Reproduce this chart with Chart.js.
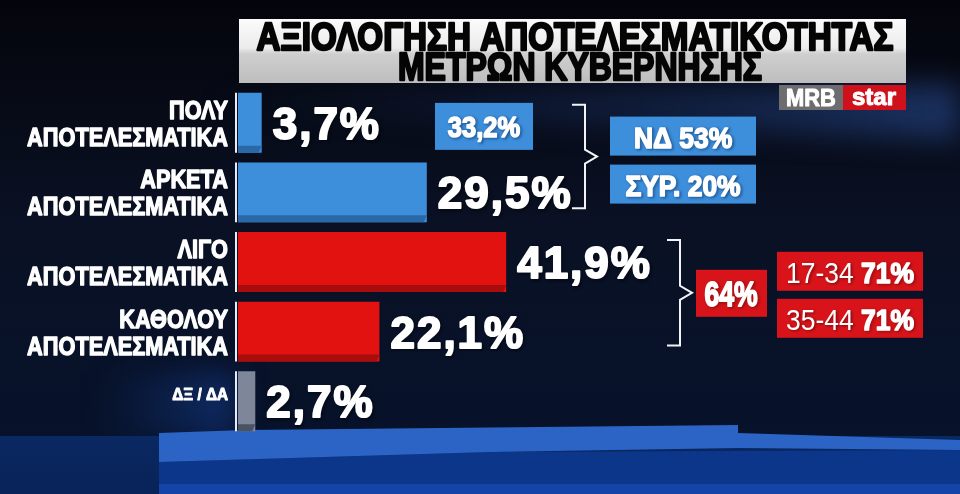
<!DOCTYPE html>
<html>
<head>
<meta charset="utf-8">
<script src="https://cdn.jsdelivr.net/npm/chart.js@4.4.1/dist/chart.umd.min.js"></script>
<style>
  html, body { margin: 0; padding: 0; background: #070b18; overflow: hidden; }
  #poll { display: block; }
</style>
</head>
<body>
<canvas id="poll" width="960" height="494"></canvas>
<script>
// poll data
const categories = [
    ['ΠΟΛΥ', 'ΑΠΟΤΕΛΕΣΜΑΤΙΚΑ'],
    ['ΑΡΚΕΤΑ', 'ΑΠΟΤΕΛΕΣΜΑΤΙΚΑ'],
    ['ΛΙΓΟ', 'ΑΠΟΤΕΛΕΣΜΑΤΙΚΑ'],
    ['ΚΑΘΟΛΟΥ', 'ΑΠΟΤΕΛΕΣΜΑΤΙΚΑ'],
    ['ΔΞ / ΔΑ']
];
const values = [3.7, 29.5, 41.9, 22.1, 2.7];
const titleLines = ['ΑΞΙΟΛΟΓΗΣΗ ΑΠΟΤΕΛΕΣΜΑΤΙΚΟΤΗΤΑΣ', 'ΜΕΤΡΩΝ ΚΥΒΕΡΝΗΣΗΣ'];
const positiveTotal = '33,2%';
const positiveByParty = ['ΝΔ 53%', 'ΣΥΡ. 20%'];
const negativeTotal = '64%';
const negativeAgeGroups = ['17-34', '35-44'];
const negativeAgeValues = ['71%', '71%'];

const FONT = "'Liberation Sans', Arial, sans-serif";
const BLUE = '#3d8fdc';
const RED = '#e11210';

// draw text squeezed horizontally (the original uses a condensed face)
function drawText(c, s, x, y, o) {
    c.save();
    c.font = o.font;
    c.letterSpacing = o.spacing || '0px';
    c.textBaseline = o.baseline || 'alphabetic';
    c.textAlign = 'left';
    const w = c.measureText(s).width;
    const sx = o.width ? o.width / w : (o.sx || 1);
    const dw = w * sx;
    let left = x;
    if (o.align === 'right') left = x - dw;
    else if (o.align === 'center') left = x - dw / 2;
    c.translate(left, y);
    c.scale(sx, 1);
    c.fillStyle = o.color || '#fff';
    c.strokeStyle = o.color || '#fff';
    if (o.shadow) {
        c.shadowColor = o.shadow;
        c.shadowBlur = 3;
        c.shadowOffsetX = 1.5;
        c.shadowOffsetY = 1.5;
    }
    if (o.stroke) {
        c.lineWidth = o.stroke;
        c.lineJoin = 'round';
        c.strokeText(s, 0, 0);
        c.shadowColor = 'transparent';
    }
    c.fillText(s, 0, 0);
    c.restore();
    return dw;
}

function bracket(c, x, top, bottom, tipX) {
    const mid = (top + bottom) / 2;
    c.save();
    c.strokeStyle = '#f2f4f8';
    c.lineWidth = 2;
    c.beginPath();
    c.moveTo(x - 13, top);
    c.lineTo(x, top);
    c.lineTo(x, mid - 7);
    c.lineTo(tipX, mid);
    c.lineTo(x, mid + 7);
    c.lineTo(x, bottom);
    c.lineTo(x - 13, bottom);
    c.stroke();
    c.restore();
}

function box(c, x, y, w, h, color) {
    c.fillStyle = color;
    c.fillRect(x, y, w, h);
}

const backdrop = {
    id: 'backdrop',
    beforeDraw(chart) {
        const c = chart.ctx;
        const W = chart.width, H = chart.height;
        c.save();
        let g = c.createLinearGradient(0, 0, 0, H);
        g.addColorStop(0, '#04050b');
        g.addColorStop(0.45, '#0a1124');
        g.addColorStop(0.85, '#07122a');
        g.addColorStop(1, '#061430');
        c.fillStyle = g;
        c.fillRect(0, 0, W, H);

        // soft streak behind the title
        c.filter = 'blur(14px)';
        c.beginPath();
        c.moveTo(200, 92); c.lineTo(960, 84); c.lineTo(960, 140); c.lineTo(200, 108);
        c.closePath();
        let s = c.createLinearGradient(200, 0, W, 0);
        s.addColorStop(0, 'rgba(25,50,105,0)');
        s.addColorStop(0.5, 'rgba(30,60,120,0.35)');
        s.addColorStop(1, 'rgba(40,75,145,0.6)');
        c.fillStyle = s;
        c.fill();

        let lg = c.createLinearGradient(100, 0, 236, 0);
        lg.addColorStop(0, 'rgba(16,48,112,0)');
        lg.addColorStop(1, 'rgba(16,48,112,0.85)');
        c.fillStyle = lg;
        c.fillRect(100, 372, 136, 64);
        c.filter = 'none';

        // floor
        let fg = c.createLinearGradient(0, 436, 0, H);
        fg.addColorStop(0, '#0a2862');
        fg.addColorStop(1, '#082358');
        c.fillStyle = fg;
        c.fillRect(0, 436, W, H - 436);

        c.beginPath();
        c.moveTo(159, 462); c.lineTo(490, 452); c.lineTo(960, 450);
        c.lineTo(960, H); c.lineTo(159, H);
        c.closePath();
        c.fillStyle = '#0c368a';
        c.fill();
        c.fillStyle = '#1444a8';
        c.fillRect(159, 484, W - 159, H - 484);

        c.beginPath();
        c.moveTo(159, 433); c.lineTo(245, 430); c.lineTo(738, 425); c.lineTo(738, 433);
        c.lineTo(960, 440); c.lineTo(960, 450); c.lineTo(738, 448); c.lineTo(490, 452);
        c.lineTo(159, 462);
        c.closePath();
        c.fillStyle = '#2c64c6';
        c.fill();
        c.restore();
    }
};

const decor = {
    id: 'decor',
    afterDatasetsDraw(chart) {
        const c = chart.ctx;
        const meta = chart.getDatasetMeta(0);
        const shades = ['#2a68a8', '#2a68a8', '#a80d0c', '#a80d0c', '#4b5262'];
        const tops = [], bots = [];
        c.save();
        meta.data.forEach((el, i) => {
            const p = el.getProps(['x', 'y', 'base', 'height'], true);
            const top = p.y - p.height / 2, bot = p.y + p.height / 2;
            tops.push(top); bots.push(bot);
            // bevel at the foot of each bar
            c.beginPath();
            c.moveTo(p.base, bot - 7); c.lineTo(p.x, bot - 7);
            c.lineTo(p.x - 3, bot); c.lineTo(p.base, bot);
            c.closePath();
            c.fillStyle = shades[i];
            c.fill();
            // white divider
            c.strokeStyle = '#e8eef8';
            c.lineWidth = 2;
            c.beginPath();
            c.moveTo(p.base - 2, top); c.lineTo(p.base - 2, bot);
            c.stroke();

            // category label
            const lines = categories[i];
            if (lines.length === 2) {
                drawText(c, lines[0], p.base - 10, p.y - 4, { font: `bold 25px ${FONT}`, sx: 0.87, align: 'right', stroke: 1.3 });
                drawText(c, lines[1], p.base - 10, p.y + 23, { font: `bold 25px ${FONT}`, sx: 0.87, align: 'right', stroke: 1.3 });
            } else {
                drawText(c, lines[0], p.base - 10, p.y - 1, { font: `bold 17px ${FONT}`, sx: 0.9, align: 'right', stroke: 1 });
            }

            // value label
            const label = values[i].toFixed(1).replace('.', ',') + '%';
            drawText(c, label, p.x + 11, p.y + 16, {
                font: `bold 44px ${FONT}`, spacing: '2px', stroke: 2, shadow: 'rgba(0,0,0,0.6)'
            });
        });

        // title
        let tg = c.createLinearGradient(0, 19, 0, 83);
        tg.addColorStop(0, '#fbfbfb');
        tg.addColorStop(0.45, '#ececec');
        tg.addColorStop(0.55, '#cfcfcf');
        tg.addColorStop(1, '#bdbdbd');
        c.fillStyle = tg;
        c.fillRect(239, 19, 667, 64);
        drawText(c, titleLines[0], 575, 50, { font: `bold 39px ${FONT}`, width: 637, align: 'center', color: '#050505', stroke: 2.4 });
        drawText(c, titleLines[1], 580, 80, { font: `bold 39px ${FONT}`, width: 364, align: 'center', color: '#050505', stroke: 2.4 });

        // logo
        box(c, 779, 85, 64, 25, '#6d6d6f');
        box(c, 843, 85, 63, 25, '#cf111b');
        drawText(c, 'MRB', 811, 106, { font: `bold 23px ${FONT}`, sx: 0.95, align: 'center', stroke: 1 });
        drawText(c, 'star', 874, 105, { font: `bold 24px ${FONT}`, sx: 1, align: 'center', stroke: 1 });

        // positive side
        const bTop = tops[0] + 12, bBot = bots[1] - 14;
        const bMid = (bTop + bBot) / 2;
        const bluShadow = 'rgba(0,20,60,0.7)';
        box(c, 435, tops[0] + 10, 98, 47, BLUE);
        drawText(c, positiveTotal, 484, tops[0] + 44, { font: `bold 30px ${FONT}`, sx: 0.85, align: 'center', stroke: 1.6, shadow: bluShadow });
        bracket(c, 585, bTop, bBot, 597);
        box(c, 610, bMid - 40, 146, 39, BLUE);
        box(c, 610, bMid + 8, 146, 39, BLUE);
        drawText(c, positiveByParty[0], 683, bMid - 9, { font: `bold 30px ${FONT}`, sx: 0.88, align: 'center', stroke: 1.6, shadow: bluShadow });
        drawText(c, positiveByParty[1], 683, bMid + 39, { font: `bold 30px ${FONT}`, sx: 0.88, align: 'center', stroke: 1.6, shadow: bluShadow });

        // negative side
        const rTop = tops[2] + 8, rBot = bots[3] - 16;
        const rMid = (rTop + rBot) / 2;
        const redShadow = 'rgba(60,0,0,0.6)';
        bracket(c, 680, rTop, rBot, 692);
        box(c, 696, rMid - 23, 71, 47, '#d8141a');
        drawText(c, negativeTotal, 731, rMid + 13, { font: `bold 35px ${FONT}`, sx: 0.76, align: 'center', stroke: 1.8, shadow: redShadow });
        negativeAgeGroups.forEach((grp, k) => {
            const y0 = rMid - 41 + k * 47;
            box(c, 777, y0, 146, 39, '#d8141a');
            c.save();
            c.font = `30px ${FONT}`;
            const w1 = c.measureText(grp + ' ').width;
            c.font = `bold 30px ${FONT}`;
            const w2 = c.measureText(negativeAgeValues[k]).width;
            c.restore();
            const sx = 128 / (w1 + w2);
            const x0 = 850 - 64;
            drawText(c, grp + ' ', x0, y0 + 31, { font: `30px ${FONT}`, sx: sx, shadow: redShadow });
            drawText(c, negativeAgeValues[k], x0 + w1 * sx, y0 + 31, { font: `bold 30px ${FONT}`, sx: sx, stroke: 1.6, shadow: redShadow });
        });
        c.restore();
    }
};

const ctx = document.getElementById('poll').getContext('2d');
const chart = new Chart(ctx, {
    type: 'bar',
    data: {
        labels: categories,
        datasets: [{
            data: values,
            backgroundColor: [BLUE, BLUE, RED, RED, '#7e8799'],
            borderWidth: 0,
            barPercentage: 0.86,
            categoryPercentage: 1
        }]
    },
    options: {
        indexAxis: 'y',
        responsive: false,
        animation: false,
        devicePixelRatio: 1,
        layout: { padding: { left: 238, right: 82, top: 88, bottom: 58 } },
        scales: {
            x: { display: false, min: 0, max: 100 },
            y: { display: false }
        },
        plugins: {
            legend: { display: false },
            tooltip: { enabled: false }
        }
    },
    plugins: [backdrop, decor]
});
</script>
</body>
</html>
